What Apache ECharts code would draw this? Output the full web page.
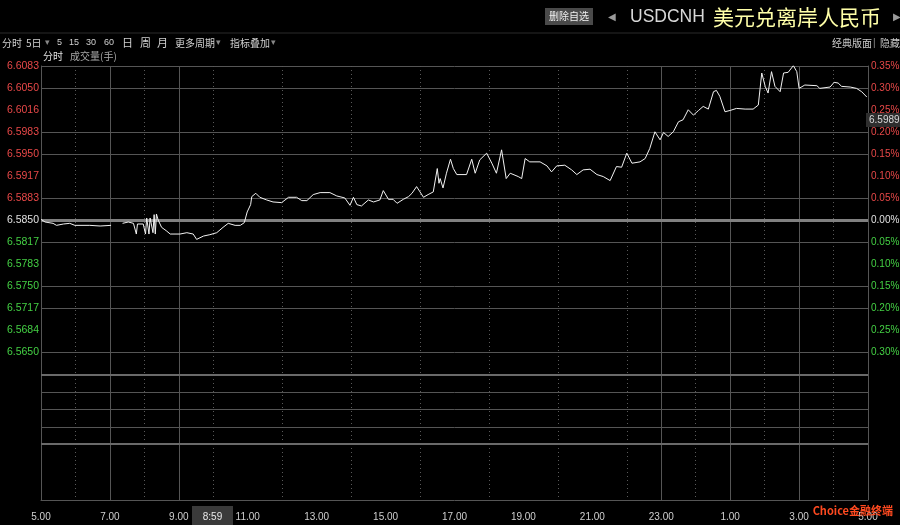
<!DOCTYPE html>
<html><head><meta charset="utf-8">
<script src="https://cdn.jsdelivr.net/npm/echarts@6/dist/echarts.min.js"></script>
<style>html,body{margin:0;padding:0;background:#000}#c{width:900px;height:525px}</style>
</head><body><div id="c"></div>
<script>
// ---- data ----
const times = ['05:00','05:07','05:21','05:27','05:39','05:50','05:59','06:25','06:43','07:02','07:12','07:22','07:32','07:41','07:46','07:48','07:58','08:02','08:04','08:08','08:10','08:15','08:17','08:19','08:21','08:24','08:30','08:38','08:45','09:02','09:14','09:25','09:31','09:43','09:54','10:06','10:17','10:26','10:38','10:47','10:54','10:59','11:05','11:07','11:14','11:21','11:33','11:44','11:59','12:11','12:25','12:34','12:43','12:54','13:06','13:23','13:35','13:49','13:58','14:04','14:10','14:18','14:30','14:39','14:50','14:56','15:05','15:13','15:20','15:31','15:40','15:46','15:54','16:00','16:06','16:14','16:23','16:30','16:33','16:35','16:40','16:46','16:53','16:58','17:04','17:21','17:30','17:36','17:44','17:56','18:05','18:13','18:22','18:30','18:37','18:51','18:57','19:03','19:11','19:29','19:41','19:49','19:58','20:12','20:24','20:33','20:44','20:56','21:08','21:19','21:31','21:42','21:51','22:00','22:09','22:23','22:32','22:40','22:49','22:58','23:04','23:12','23:21','23:30','23:38','23:47','23:56','00:05','00:13','00:22','00:31','00:36','00:42','00:51','01:00','01:11','01:26','01:40','01:49','01:55','02:01','02:06','02:12','02:18','02:27','02:33','02:41','02:50','02:56','03:00','03:10','03:31','03:36','03:54','04:01','04:08','04:14','04:29','04:40','04:49','04:58'];
const prices = [6.5853,6.5849,6.5847,6.5844,6.5846,6.5847,6.5844,6.5844,6.5843,6.5844,null,6.5847,6.5849,6.5847,6.5831,6.5846,6.5846,6.5831,6.5855,6.5831,6.5855,6.5833,6.5860,6.5831,6.5861,6.5852,6.5841,6.5836,6.5831,6.5831,6.5833,6.5831,6.5823,6.5828,6.5830,6.5833,6.5841,6.5847,6.5844,6.5844,6.5848,6.5864,6.5875,6.5887,6.5892,6.5886,6.5882,6.5879,6.5878,6.5886,6.5886,6.5881,6.5881,6.5890,6.5893,6.5893,6.5888,6.5885,6.5874,6.5886,6.5875,6.5873,6.5882,6.5879,6.5882,6.5896,6.5883,6.5883,6.5877,6.5883,6.5887,6.5892,6.5902,6.5894,6.5886,6.5890,6.5894,6.5929,6.5907,6.5914,6.5900,6.5922,6.5943,6.5929,6.5920,6.5920,6.5943,6.5922,6.5942,6.5952,6.5937,6.5922,6.5957,6.5914,6.5922,6.5917,6.5914,6.5944,6.5939,6.5939,6.5933,6.5924,6.5933,6.5934,6.5927,6.5920,6.5927,6.5928,6.5920,6.5917,6.5911,6.5932,6.5931,6.5952,6.5937,6.5939,6.5944,6.5959,6.5984,6.5972,6.5983,6.5977,6.5984,6.5999,6.6002,6.6017,6.6009,6.6016,6.6022,6.6018,6.6044,6.6046,6.6037,6.6014,6.6016,6.6019,6.6018,6.6018,6.6024,6.6072,6.6052,6.6042,6.6074,6.6052,6.6044,6.6072,6.6073,6.6083,6.6074,6.6049,6.6054,6.6053,6.6049,6.6051,6.6058,6.6057,6.6052,6.6051,6.6049,6.6044,6.6036];
const prevClose = 6.5852;
const leftTicks = ['6.5650','6.5684','6.5717','6.5750','6.5783','6.5817','6.5850','6.5883','6.5917','6.5950','6.5983','6.6016','6.6050','6.6083'];
const rightTicks = ['0.30%','0.25%','0.20%','0.15%','0.10%','0.05%','0.00%','0.05%','0.10%','0.15%','0.20%','0.25%','0.30%','0.35%'];
const hourTicks = ['5.00','7.00','9.00','11.00','13.00','15.00','17.00','19.00','21.00','23.00','1.00','3.00','5.00'];
const lastPriceLabel = '6.5989';
const cursorTimeLabel = '8:59';

// ---- helpers ----
const START = 5 * 60;
function toOffset(t) { const [h, m] = t.split(':').map(Number); return ((h * 60 + m - START) + 1440) % 1440; }
function toPct(p) { return (p / prevClose - 1) * 10000; }
const seriesData = times.map((t, i) => [toOffset(t), prices[i] == null ? '-' : +toPct(prices[i]).toFixed(3)]);

const GRID = '#555';
const hLineColors = [GRID,'transparent',GRID,GRID,'transparent',GRID,GRID,GRID,'transparent',GRID,GRID,'transparent',GRID,GRID];
const vLineColors = [GRID,GRID,GRID,'transparent','transparent','transparent','transparent','transparent','transparent',GRID,GRID,GRID,GRID];
const RED = '#e84848', GREEN = '#44d044', WHITE = '#e0e0e0';
const FONT = 'Liberation Sans, Arial, sans-serif';
function tickIdx(v) { return Math.round((v + 30) / 5); }
function tickColor(v) { return v > 0.01 ? RED : (v < -0.01 ? GREEN : WHITE); }

function xAxisFor(gi, showLabel) {
  return {
    type: 'value', gridIndex: gi, min: 0, max: 1440, interval: 120,
    axisLine: { show: showLabel, lineStyle: { color: GRID } },
    axisTick: { show: false },
    axisLabel: { show: showLabel, color: '#cfcfcf', fontSize: 10, fontFamily: FONT, margin: 12,
      formatter: v => hourTicks[Math.round(v / 120)] },
    splitLine: { show: true, lineStyle: { color: vLineColors, width: 1 } },
    minorTick: { show: false, splitNumber: 2 },
    minorSplitLine: { show: true, lineStyle: { color: '#5a5a5a', width: 1, type: [1, 3] } }
  };
}

const gridBase = { left: 41, right: 32, containLabel: false, outerBoundsMode: 'none' };
const grids = [
  Object.assign({ top: 66, height: 286 }, gridBase),
  Object.assign({ top: 352, height: 23 }, gridBase),
  Object.assign({ top: 375, height: 69 }, gridBase),
  Object.assign({ top: 444, height: 56 }, gridBase)
];

const chart = echarts.init(document.getElementById('c'), null, { renderer: 'canvas' });
chart.setOption({
  backgroundColor: '#000',
  animation: false,
  grid: grids,
  xAxis: [xAxisFor(0, false), xAxisFor(1, false), xAxisFor(2, false), xAxisFor(3, true)],
  yAxis: [
    { type: 'value', gridIndex: 0, min: -30, max: 35, interval: 5, position: 'left',
      axisLine: { show: true, lineStyle: { color: GRID } }, axisTick: { show: false },
      axisLabel: { color: tickColor, fontSize: 10.5, fontFamily: FONT, margin: 2,
        formatter: v => leftTicks[tickIdx(v)] },
      splitLine: { show: true, lineStyle: { color: hLineColors, width: 1 } } },
    { type: 'value', gridIndex: 0, min: -30, max: 35, interval: 5, position: 'right',
      axisLine: { show: true, lineStyle: { color: GRID } }, axisTick: { show: false },
      axisLabel: { color: tickColor, fontSize: 10, fontFamily: FONT, margin: 3,
        formatter: v => rightTicks[tickIdx(v)] },
      splitLine: { show: false } },
    { type: 'value', gridIndex: 1, min: 0, max: 1, axisLine: { show: true, lineStyle: { color: GRID } },
      axisTick: { show: false }, axisLabel: { show: false }, splitLine: { show: false } },
    { type: 'value', gridIndex: 2, min: 0, max: 4, interval: 1, axisLine: { show: true, lineStyle: { color: GRID } },
      axisTick: { show: false }, axisLabel: { show: false },
      splitLine: { show: true, lineStyle: { color: GRID } } },
    { type: 'value', gridIndex: 3, min: 0, max: 1, axisLine: { show: true, lineStyle: { color: GRID } },
      axisTick: { show: false }, axisLabel: { show: false }, splitLine: { show: false } }
  ],
  series: [
    { type: 'line', xAxisIndex: 0, yAxisIndex: 0, data: seriesData, showSymbol: false, connectNulls: false,
      lineStyle: { color: '#f2f2f2', width: 1 }, z: 5,
      markLine: { silent: true, symbol: 'none', label: { show: false },
        lineStyle: { color: '#808080', width: 3, type: 'solid' }, data: [{ yAxis: 0 }] } },
    { type: 'line', xAxisIndex: 2, yAxisIndex: 3, data: [],
      markLine: { silent: true, symbol: 'none', label: { show: false },
        lineStyle: { color: '#6a6a6a', width: 2, type: 'solid' }, data: [{ yAxis: 0 }, { yAxis: 4 }] } }
  ],
  graphic: [
    { type: 'line', shape: { x1: 0, y1: 33, x2: 900, y2: 33 }, style: { stroke: '#2a2a2a', lineWidth: 1 } },
    { type: 'rect', shape: { x: 545, y: 8, width: 48, height: 17 }, style: { fill: '#4a4a4a' } },
    { type: 'text', x: 569, y: 16.5, style: { text: '删除自选', fill: '#f0f0f0', font: '10px "Noto Sans CJK SC"', textAlign: 'center', textVerticalAlign: 'middle' } },
    { type: 'text', x: 608, y: 17, style: { text: '◀', fill: '#9a9a9a', font: '10px "DejaVu Sans"', textVerticalAlign: 'middle' } },
    { type: 'text', x: 630, y: 17, style: { text: 'USDCNH', fill: '#d8d8d8', font: '17.5px "Liberation Sans"', textVerticalAlign: 'middle' } },
    { type: 'text', x: 713, y: 17, style: { text: '美元兑离岸人民币', fill: '#ffffa8', font: '21px "Noto Sans CJK SC"', textVerticalAlign: 'middle' } },
    { type: 'text', x: 893, y: 17, style: { text: '▶', fill: '#9a9a9a', font: '10px "DejaVu Sans"', textVerticalAlign: 'middle' } },
    { type: 'text', x: 2, y: 43, style: { text: '分时', fill: '#d0d0d0', font: '10px "Noto Sans CJK SC"', textVerticalAlign: 'middle' } },
    { type: 'text', x: 26, y: 43, style: { text: '5日', fill: '#d0d0d0', font: '10px "Noto Sans CJK SC"', textVerticalAlign: 'middle' } },
    { type: 'text', x: 45, y: 43, style: { text: '▾', fill: '#888', font: '9px "DejaVu Sans"', textVerticalAlign: 'middle' } },
    { type: 'text', x: 57, y: 43, style: { text: '5', fill: '#d0d0d0', font: '9px "Liberation Sans"', textVerticalAlign: 'middle' } },
    { type: 'text', x: 69, y: 43, style: { text: '15', fill: '#d0d0d0', font: '9px "Liberation Sans"', textVerticalAlign: 'middle' } },
    { type: 'text', x: 86, y: 43, style: { text: '30', fill: '#d0d0d0', font: '9px "Liberation Sans"', textVerticalAlign: 'middle' } },
    { type: 'text', x: 104, y: 43, style: { text: '60', fill: '#d0d0d0', font: '9px "Liberation Sans"', textVerticalAlign: 'middle' } },
    { type: 'text', x: 122, y: 43, style: { text: '日', fill: '#d0d0d0', font: '11px "Noto Sans CJK SC"', textVerticalAlign: 'middle' } },
    { type: 'text', x: 140, y: 43, style: { text: '周', fill: '#d0d0d0', font: '11px "Noto Sans CJK SC"', textVerticalAlign: 'middle' } },
    { type: 'text', x: 157, y: 43, style: { text: '月', fill: '#d0d0d0', font: '11px "Noto Sans CJK SC"', textVerticalAlign: 'middle' } },
    { type: 'text', x: 175, y: 43, style: { text: '更多周期', fill: '#d0d0d0', font: '10px "Noto Sans CJK SC"', textVerticalAlign: 'middle' } },
    { type: 'text', x: 216, y: 43, style: { text: '▾', fill: '#888', font: '9px "DejaVu Sans"', textVerticalAlign: 'middle' } },
    { type: 'text', x: 230, y: 43, style: { text: '指标叠加', fill: '#d0d0d0', font: '10px "Noto Sans CJK SC"', textVerticalAlign: 'middle' } },
    { type: 'text', x: 271, y: 43, style: { text: '▾', fill: '#888', font: '9px "DejaVu Sans"', textVerticalAlign: 'middle' } },
    { type: 'text', x: 43, y: 56, style: { text: '分时', fill: '#e0e0e0', font: '10px "Noto Sans CJK SC"', textVerticalAlign: 'middle' } },
    { type: 'text', x: 70, y: 56, style: { text: '成交量(手)', fill: '#a8a8a8', font: '10px "Noto Sans CJK SC"', textVerticalAlign: 'middle' } },
    { type: 'text', x: 832, y: 43, style: { text: '经典版面', fill: '#c8c8c8', font: '10px "Noto Sans CJK SC"', textVerticalAlign: 'middle' } },
    { type: 'text', x: 873, y: 43, style: { text: '|', fill: '#888', font: '10px "Liberation Sans"', textVerticalAlign: 'middle' } },
    { type: 'text', x: 880, y: 43, style: { text: '隐藏', fill: '#c8c8c8', font: '10px "Noto Sans CJK SC"', textVerticalAlign: 'middle' } },
    { type: 'rect', shape: { x: 866, y: 113, width: 34, height: 14 }, style: { fill: '#2e2e2e' }, z: 100 },
    { type: 'text', x: 869, y: 120, z: 101, style: { text: lastPriceLabel, fill: '#d8d8d8', font: '10px "Liberation Sans"', textVerticalAlign: 'middle' } },
    { type: 'rect', shape: { x: 192, y: 506, width: 41, height: 19 }, style: { fill: '#3a3a3a' }, z: 100 },
    { type: 'text', x: 212.5, y: 517, z: 101, style: { text: cursorTimeLabel, fill: '#e8e8e8', font: '10px "Liberation Sans"', textAlign: 'center', textVerticalAlign: 'middle' } },
    { type: 'text', x: 893, y: 511, z: 101, style: { text: 'Choice金融终端', fill: '#ff4a20', font: 'bold 11px "Noto Sans CJK SC"', textAlign: 'right', textVerticalAlign: 'middle' } }
  ]
});
</script></body></html>
